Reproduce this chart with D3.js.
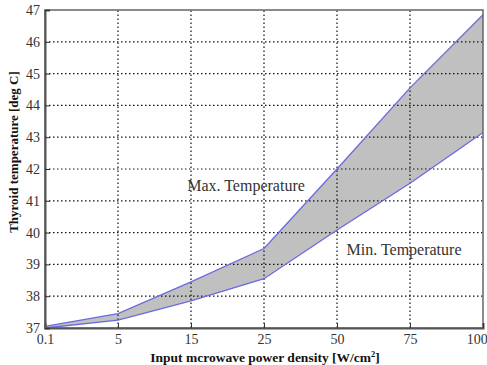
<!DOCTYPE html>
<html>
<head>
<meta charset="utf-8">
<script src="https://cdn.jsdelivr.net/npm/d3@7"></script>
<style>
  body { margin: 0; background: #fff; }
  svg text { font-family: "Liberation Serif", "Times New Roman", serif; }
</style>
</head>
<body>
<div id="chart"></div>
<script>
// data
const powerCats = ["0.1", "5", "15", "25", "50", "75", "100"];
const maxTemp = [37.05, 37.45, 38.45, 39.5, 42.0, 44.55, 46.85];
const minTemp = [37.0, 37.25, 37.85, 38.55, 40.08, 41.55, 43.15];
const yTicks = [37, 38, 39, 40, 41, 42, 43, 44, 45, 46, 47];

const width = 487, height = 365;
const margin = {left: 45, right: 4, top: 10, bottom: 37};

const svg = d3.select("#chart").append("svg")
  .attr("width", width)
  .attr("height", height);

const x = d3.scalePoint()
  .domain(powerCats)
  .range([margin.left, width - margin.right]);

const y = d3.scaleLinear()
  .domain([37, 47])
  .range([height - margin.bottom, margin.top]);

const rows = powerCats.map((c, i) => ({c: c, hi: maxTemp[i], lo: minTemp[i]}));

// band between min and max
const area = d3.area()
  .x(d => x(d.c))
  .y0(d => y(d.lo))
  .y1(d => y(d.hi));

svg.append("path")
  .datum(rows)
  .attr("d", area)
  .attr("fill", "#c0c0c0");

// grid, drawn over the band
const grid = svg.append("g").attr("class", "grid");
grid.selectAll(".gx")
  .data(powerCats.slice(1, -1))
  .enter().append("line")
  .attr("x1", d => x(d)).attr("x2", d => x(d))
  .attr("y1", y(37)).attr("y2", y(47))
  .attr("stroke", "#111").attr("stroke-width", 1.2)
  .attr("stroke-dasharray", "1.5,2.5");
grid.selectAll(".gy")
  .data(yTicks.slice(1, -1))
  .enter().append("line")
  .attr("x1", x.range()[0]).attr("x2", x.range()[1])
  .attr("y1", d => y(d)).attr("y2", d => y(d))
  .attr("stroke", "#111").attr("stroke-width", 1.2)
  .attr("stroke-dasharray", "1.5,2.5");

// the two curves
const line = key => d3.line().x(d => x(d.c)).y(d => y(d[key]));
["hi", "lo"].forEach(k => {
  svg.append("path")
    .datum(rows)
    .attr("d", line(k))
    .attr("fill", "none")
    .attr("stroke", "#6a6ae0")
    .attr("stroke-width", 1.3);
});

// frame
svg.append("rect")
  .attr("x", x.range()[0]).attr("y", y(47))
  .attr("width", x.range()[1] - x.range()[0])
  .attr("height", y(37) - y(47))
  .attr("fill", "none")
  .attr("stroke", "#666").attr("stroke-width", 1.5);

// axes
const xAxis = d3.axisBottom(x).tickSize(-5).tickPadding(6);
const yAxis = d3.axisLeft(y).tickValues(yTicks).tickFormat(d3.format("d")).tickSize(-5).tickPadding(5);

const gx = svg.append("g")
  .attr("transform", "translate(0," + y(37) + ")")
  .call(xAxis);
const gy = svg.append("g")
  .attr("transform", "translate(" + margin.left + ",0)")
  .call(yAxis);

[gx, gy].forEach(g => {
  g.select(".domain").attr("stroke", "#555").attr("stroke-width", 2);
  g.selectAll(".tick line").attr("stroke", "#333");
  g.selectAll(".tick text")
    .attr("fill", "#333")
    .style("font-size", "14px");
});
// last x label sits at the right edge, pull it in so it stays visible
gx.selectAll(".tick text").filter(d => d === "100").attr("text-anchor", "end").attr("dx", "0.3em");

// axis titles
svg.append("text")
  .attr("x", 265).attr("y", 362)
  .attr("text-anchor", "middle")
  .style("font-size", "13.5px").style("font-weight", "bold")
  .attr("fill", "#111")
  .html('Input mcrowave power density [W/cm<tspan dy="-5" font-size="8.5px">2</tspan><tspan dy="5">]</tspan>');

svg.append("text")
  .attr("transform", "translate(18,152) rotate(-90)")
  .attr("text-anchor", "middle")
  .style("font-size", "13px").style("font-weight", "bold")
  .attr("fill", "#111")
  .text("Thyroid temperature [deg C]");

// curve labels
svg.append("text")
  .attr("x", 246).attr("y", 191)
  .attr("text-anchor", "middle")
  .style("font-size", "16px")
  .attr("fill", "#333")
  .text("Max. Temperature");

svg.append("text")
  .attr("x", 404).attr("y", 255)
  .attr("text-anchor", "middle")
  .style("font-size", "16px")
  .attr("fill", "#333")
  .text("Min. Temperature");
</script>
</body>
</html>
